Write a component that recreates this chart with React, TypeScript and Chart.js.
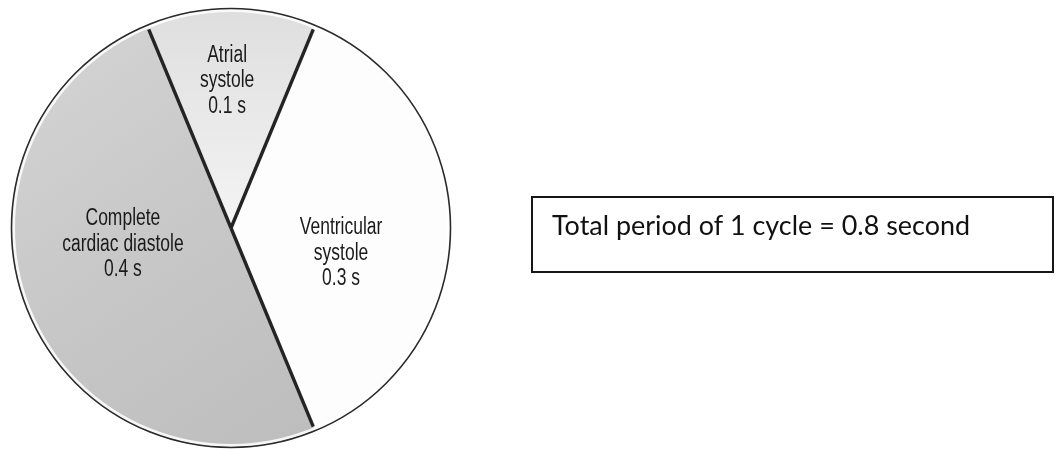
import React, { useEffect, useRef } from "react";
import { Chart, registerables } from "chart.js";

Chart.register(...registerables);

// ---- data ----
const categories = ["Atrial systole", "Ventricular systole", "Complete cardiac diastole"];
const labelLines = [
  ["Atrial", "systole"],
  ["Ventricular", "systole"],
  ["Complete", "cardiac diastole"],
];
const durations = [0.1, 0.3, 0.4];
const unit = "s";
const totalText = "Total period of 1 cycle = 0.8 second";

// ---- styles ----
const W = 1056;
const H = 450;

function sliceFill(c: any) {
  const chart = c.chart;
  const area = chart.chartArea;
  const i = c.dataIndex;
  const flat = ["#e6e6e6", "#fdfdfd", "#c6c6c6"];
  if (!area) return flat[i];
  const ctx = chart.ctx;
  if (i === 0) {
    const g = ctx.createLinearGradient(0, area.top, 0, (area.top + area.bottom) / 2);
    g.addColorStop(0, "#dedede");
    g.addColorStop(1, "#f4f4f4");
    return g;
  }
  if (i === 2) {
    const g = ctx.createLinearGradient(area.left, area.top, area.left + 300, area.bottom);
    g.addColorStop(0, "#d6d6d6");
    g.addColorStop(0.5, "#c8c8c8");
    g.addColorStop(1, "#bdbdbd");
    return g;
  }
  return flat[i];
}

const labelPlacement = [
  { angle: -1.5, frac: 0.677 },
  { angle: 12.3, frac: 0.512 },
  { angle: 14.6, frac: 0.496 },
];

const decorPlugin = {
  id: "pieDecor",
  afterDatasetsDraw(chart: any) {
    const ctx = chart.ctx as CanvasRenderingContext2D;
    const meta = chart.getDatasetMeta(0);
    const arcs = meta.data as any[];
    if (!arcs.length) return;
    const { x, y, outerRadius } = arcs[0].getProps(["x", "y", "outerRadius"], true);
    ctx.save();
    // light rim inside the edge
    ctx.beginPath();
    ctx.arc(x, y, outerRadius - 2.5, 0, Math.PI * 2);
    ctx.strokeStyle = "rgba(255,255,255,0.85)";
    ctx.lineWidth = 3;
    ctx.stroke();
    // outer circle
    ctx.beginPath();
    ctx.arc(x, y, outerRadius - 0.5, 0, Math.PI * 2);
    ctx.strokeStyle = "#2a2a2a";
    ctx.lineWidth = 1.6;
    ctx.stroke();
    // dividers
    ctx.strokeStyle = "#242424";
    ctx.lineWidth = 3.4;
    ctx.lineCap = "butt";
    arcs.forEach((arc) => {
      const { startAngle } = arc.getProps(["startAngle"], true);
      const r = outerRadius - 5;
      ctx.beginPath();
      ctx.moveTo(x, y);
      ctx.lineTo(x + Math.cos(startAngle) * r, y + Math.sin(startAngle) * r);
      ctx.stroke();
    });
    // labels
    ctx.fillStyle = "#1a1a1a";
    ctx.font = "23px 'Liberation Sans', Arial, sans-serif";
    ctx.textAlign = "center";
    ctx.textBaseline = "alphabetic";
    const lineH = 25.5;
    arcs.forEach((arc, i) => {
      const { startAngle, endAngle } = arc.getProps(["startAngle", "endAngle"], true);
      const p = labelPlacement[i];
      const a = (startAngle + endAngle) / 2 + (p.angle * Math.PI) / 180;
      const cx = x + Math.cos(a) * outerRadius * p.frac;
      const cy = y + Math.sin(a) * outerRadius * p.frac;
      const lines = [...labelLines[i], `${durations[i]} ${unit}`];
      lines.forEach((t, k) => {
        const by = cy + 8 + (k - 1) * lineH;
        ctx.save();
        ctx.translate(cx, by);
        ctx.scale(0.76, 1);
        ctx.fillText(t, 0, 0);
        ctx.restore();
      });
    });
    // total box
    ctx.strokeStyle = "#161616";
    ctx.lineWidth = 2;
    ctx.strokeRect(532, 197, 521, 75);
    ctx.font = "26px Lato, 'Open Sans', sans-serif";
    ctx.textAlign = "left";
    ctx.fillStyle = "#111";
    const w = ctx.measureText(totalText).width;
    const s = 418 / w;
    ctx.save();
    ctx.translate(552, 235);
    ctx.scale(s, 1);
    ctx.fillText(totalText, 0, 0);
    ctx.restore();
    ctx.restore();
  },
};

export default function App() {
  const ref = useRef<HTMLCanvasElement | null>(null);
  useEffect(() => {
    if (!ref.current) return;
    const chart = new Chart(ref.current, {
      type: "pie",
      data: {
        labels: categories,
        datasets: [
          {
            data: durations,
            backgroundColor: sliceFill as any,
            borderWidth: 0,
          },
        ],
      },
      options: {
        responsive: false,
        animation: false,
        rotation: -22.5,
        layout: { padding: { left: 11, right: W - 451, top: 8, bottom: H - 448 } },
        plugins: {
          legend: { display: false },
          tooltip: { enabled: false },
        },
        events: [],
      },
      plugins: [decorPlugin],
    });
    return () => chart.destroy();
  }, []);
  return (
    <div style={{ position: "absolute", left: 0, top: 0, width: W, height: H, background: "#fff" }}>
      <canvas ref={ref} width={W} height={H} style={{ display: "block" }} />
    </div>
  );
}
